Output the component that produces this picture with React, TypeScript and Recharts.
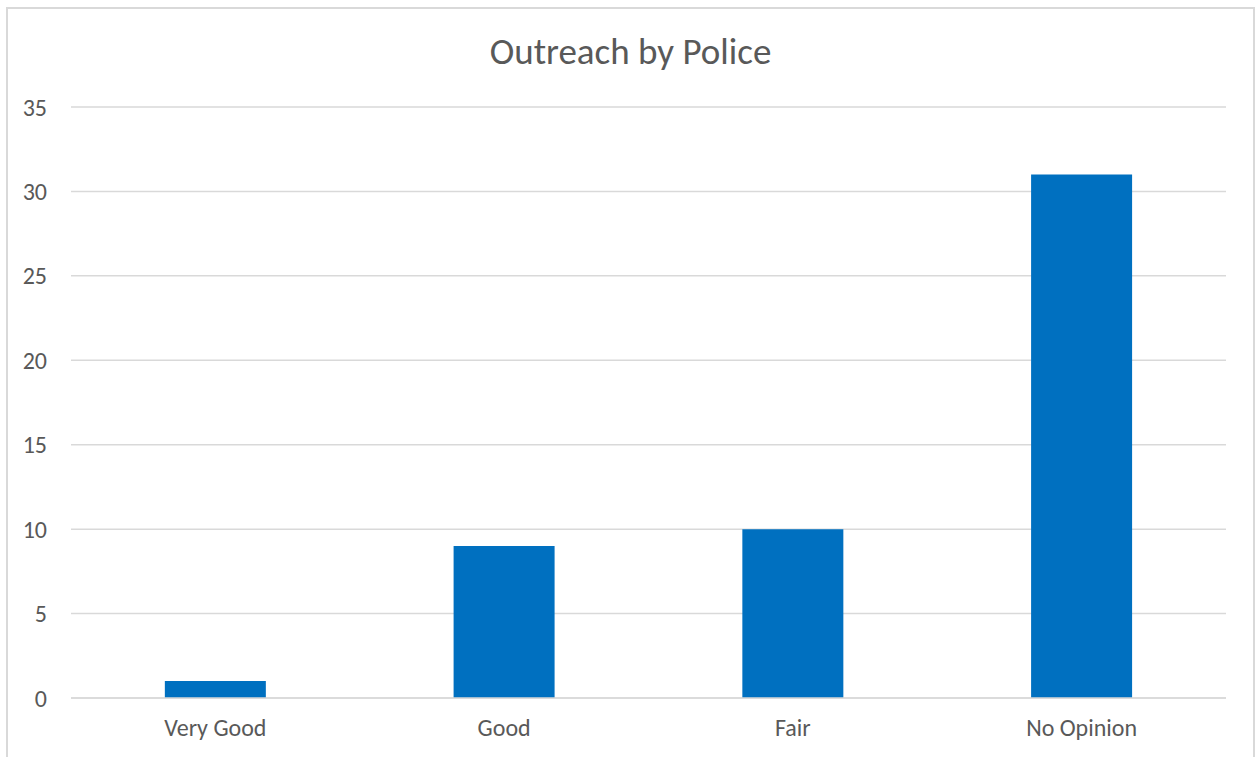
import { BarChart, Bar, XAxis, YAxis, CartesianGrid } from 'recharts'

const categories = ['Very Good', 'Good', 'Fair', 'No Opinion']
const counts = [1, 9, 10, 31]
const yTicks = [0, 5, 10, 15, 20, 25, 30, 35]

const FONT = 'Carlito, Calibri, "Noto Sans", sans-serif'

export default function App() {
  const data = categories.map((name, i) => ({ name, value: counts[i] }))

  return (
    <div
      style={{
        position: 'fixed',
        left: 0,
        top: 0,
        width: 1255,
        height: 757,
        overflow: 'hidden',
        background: '#fff',
        fontFamily: FONT,
      }}
    >
      {/* chart frame, bottom edge is cut off in the original */}
      <div
        style={{
          position: 'absolute',
          left: 6,
          top: 7,
          width: 1245,
          height: 780,
          border: '2px solid #d9d9d9',
        }}
      />
      <div
        style={{
          position: 'absolute',
          left: 8,
          width: 1245,
          top: 32,
          textAlign: 'center',
          fontSize: 37,
          color: '#595959',
          lineHeight: '40px',
        }}
      >
        Outreach by Police
      </div>
      <div style={{ position: 'absolute', left: 0, top: 0 }}>
        <BarChart
          width={1255}
          height={757}
          data={data}
          margin={{ top: 107, right: 29, bottom: 29, left: 0 }}
          barCategoryGap="32.5%"
        >
          <CartesianGrid vertical={false} stroke="#d9d9d9" strokeWidth={1.5} />
          <XAxis
            dataKey="name"
            height={30}
            axisLine={{ stroke: '#d9d9d9', strokeWidth: 1.5 }}
            tickLine={false}
            tickSize={0}
            tickMargin={21}
            tick={{ fontSize: 24, fill: '#595959', fontFamily: FONT }}
          />
          <YAxis
            width={71}
            domain={[0, 35]}
            ticks={yTicks}
            axisLine={false}
            tickLine={false}
            tickSize={0}
            tickMargin={24}
            tick={{ fontSize: 24, fill: '#595959', fontFamily: FONT }}
          />
          <Bar dataKey="value" fill="#0070c0" isAnimationActive={false} />
        </BarChart>
      </div>
    </div>
  )
}
